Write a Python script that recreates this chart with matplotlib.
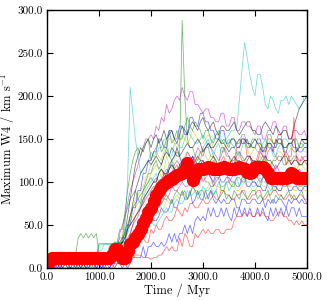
import matplotlib
matplotlib.use("Agg")
import matplotlib.pyplot as plt

plt.rcParams['font.family'] = ['cmr10', 'DejaVu Serif']
plt.rcParams['mathtext.fontset'] = 'cm'
plt.rcParams['axes.formatter.use_mathtext'] = True

# Time grid (Myr), every 50 Myr
time_myr = list(range(0, 5001, 50))

# Individual runs: maximum W4 (km/s)
b1 = [0, 0, 0, 5, 0, 5, 0, 5, 0, 0,
      5, 0, 5, 0, 5, 5, 0, 5, 0, 5,
      5, 0, 5, 0, 0, 5, 0, 5, 5, 0,
      5, 0, 5, 12, 12, 12, 12, 25, 12, 25,
      25, 30, 25, 25, 30, 25, 30, 40, 30, 40,
      30, 40, 40, 50, 40, 50, 40, 55, 60, 55,
      60, 55, 70, 60, 70, 60, 60, 70, 60, 70,
      60, 55, 70, 60, 70, 60, 70, 60, 70, 60,
      60, 70, 60, 70, 60, 55, 70, 60, 70, 60,
      70, 60, 70, 60, 70, 70, 60, 70, 60, 60,
      60]
b2 = [0, 5, 5, 0, 5, 0, 5, 5, 5, 0,
      0, 5, 5, 0, 5, 0, 0, 5, 5, 0,
      5, 0, 5, 5, 0, 5, 12, 12, 12, 12,
      15, 15, 25, 25, 40, 40, 50, 45, 45, 50,
      60, 55, 55, 60, 70, 65, 65, 70, 80, 70,
      70, 80, 90, 80, 80, 90, 75, 80, 90, 80,
      80, 90, 80, 90, 80, 75, 80, 75, 80, 75,
      75, 80, 80, 70, 70, 80, 80, 75, 75, 80,
      80, 75, 75, 80, 70, 80, 75, 80, 75, 80,
      80, 75, 70, 80, 75, 80, 80, 75, 80, 75,
      75]
b3 = [0, 0, 0, 5, 5, 5, 0, 5, 5, 0,
      5, 5, 0, 5, 5, 0, 5, 5, 5, 0,
      5, 5, 0, 5, 5, 12, 5, 12, 12, 15,
      15, 20, 20, 30, 40, 50, 55, 60, 60, 70,
      75, 80, 85, 95, 100, 105, 110, 115, 125, 130,
      140, 130, 120, 115, 110, 120, 130, 120, 115, 120,
      125, 115, 110, 105, 100, 110, 110, 100, 100, 105,
      105, 100, 100, 95, 95, 105, 105, 95, 95, 100,
      100, 95, 95, 90, 90, 100, 100, 95, 95, 90,
      90, 100, 100, 90, 90, 95, 95, 90, 90, 95,
      95]
b4 = [0, 0, 0, 5, 5, 5, 5, 5, 5, 5,
      5, 5, 5, 5, 5, 5, 5, 5, 5, 5,
      5, 10, 10, 12, 12, 15, 15, 20, 20, 35,
      35, 50, 50, 70, 70, 90, 90, 110, 110, 125,
      125, 135, 135, 150, 150, 140, 140, 160, 160, 150,
      150, 165, 165, 155, 155, 175, 175, 165, 165, 180,
      180, 170, 170, 160, 160, 150, 150, 160, 160, 145,
      145, 150, 150, 140, 140, 150, 150, 145, 145, 140,
      140, 150, 150, 135, 135, 145, 145, 140, 140, 150,
      150, 135, 135, 145, 145, 140, 140, 135, 135, 140,
      140]
g1 = [0, 5, 10, 15, 15, 15, 15, 15, 15, 15,
      15, 15, 35, 40, 35, 40, 35, 40, 35, 40,
      15, 15, 15, 15, 25, 28, 28, 28, 35, 35,
      60, 70, 80, 85, 90, 80, 75, 90, 100, 110,
      110, 120, 125, 115, 120, 130, 140, 130, 125, 130,
      135, 130, 288, 200, 150, 140, 140, 130, 125, 135,
      135, 140, 140, 130, 130, 120, 120, 140, 140, 130,
      130, 120, 120, 135, 135, 125, 125, 130, 130, 120,
      120, 125, 125, 130, 130, 120, 120, 125, 125, 130,
      130, 120, 120, 125, 125, 130, 130, 120, 120, 125,
      125]
g2 = [0, 5, 10, 15, 15, 15, 15, 15, 15, 15,
      15, 15, 15, 15, 15, 15, 15, 15, 15, 15,
      28, 28, 28, 28, 28, 28, 28, 28, 30, 28,
      45, 50, 60, 70, 75, 80, 85, 90, 95, 100,
      105, 100, 100, 110, 115, 110, 110, 120, 125, 115,
      110, 120, 120, 110, 105, 115, 115, 105, 100, 110,
      110, 100, 100, 95, 95, 105, 105, 90, 90, 100,
      100, 95, 95, 105, 105, 100, 100, 110, 110, 100,
      100, 95, 95, 105, 105, 100, 100, 90, 90, 100,
      100, 95, 95, 100, 100, 105, 105, 95, 95, 100,
      100]
g3 = [0, 0, 0, 5, 5, 0, 5, 5, 0, 5,
      5, 0, 5, 5, 0, 5, 5, 0, 5, 5,
      12, 12, 12, 12, 12, 12, 15, 15, 15, 15,
      25, 25, 30, 30, 40, 40, 55, 50, 60, 55,
      70, 75, 80, 70, 75, 80, 85, 80, 75, 85,
      90, 85, 85, 90, 80, 85, 95, 90, 85, 90,
      90, 80, 85, 90, 85, 90, 80, 85, 90, 80,
      85, 80, 90, 85, 80, 90, 85, 80, 85, 90,
      90, 80, 85, 80, 85, 90, 80, 75, 85, 80,
      85, 80, 85, 90, 80, 85, 80, 85, 90, 80,
      80]
g4 = [0, 5, 5, 5, 5, 5, 5, 5, 5, 5,
      5, 5, 5, 5, 5, 5, 5, 5, 10, 10,
      12, 12, 15, 15, 20, 20, 30, 30, 45, 45,
      65, 90, 110, 125, 135, 140, 130, 140, 145, 150,
      125, 135, 140, 150, 135, 140, 150, 160, 145, 150,
      160, 150, 150, 165, 175, 165, 160, 170, 165, 160,
      150, 160, 160, 150, 145, 155, 155, 145, 150, 145,
      140, 150, 150, 145, 145, 155, 155, 140, 140, 150,
      150, 145, 145, 140, 140, 155, 155, 145, 145, 150,
      150, 140, 140, 145, 145, 150, 150, 140, 140, 145,
      145]
r1 = [0, 0, 0, 0, 0, 0, 0, 0, 0, 0,
      0, 0, 0, 0, 0, 0, 0, 0, 0, 0,
      0, 0, 0, 0, 0, 0, 5, 5, 5, 5,
      10, 10, 12, 12, 15, 15, 15, 12, 12, 12,
      10, 12, 12, 15, 15, 20, 25, 20, 25, 20,
      20, 35, 25, 40, 35, 25, 25, 40, 35, 40,
      45, 40, 45, 40, 40, 45, 45, 40, 40, 45,
      45, 45, 55, 60, 60, 60, 65, 60, 65, 60,
      60, 65, 60, 65, 60, 60, 55, 55, 60, 65,
      65, 60, 60, 55, 55, 50, 55, 50, 55, 50,
      50]
r2 = [0, 5, 5, 10, 10, 10, 10, 10, 10, 10,
      10, 10, 10, 10, 10, 10, 10, 10, 10, 10,
      12, 12, 12, 12, 12, 15, 15, 15, 15, 15,
      20, 20, 25, 25, 35, 30, 40, 35, 30, 30,
      45, 40, 50, 45, 45, 55, 60, 55, 55, 60,
      70, 65, 60, 70, 65, 75, 75, 70, 70, 75,
      80, 75, 75, 80, 85, 80, 80, 90, 90, 85,
      85, 80, 80, 85, 85, 90, 90, 80, 80, 85,
      85, 90, 90, 80, 80, 85, 85, 90, 90, 85,
      85, 80, 80, 85, 85, 80, 80, 85, 85, 80,
      75]
r3 = [0, 0, 0, 5, 5, 5, 5, 5, 5, 5,
      5, 5, 5, 5, 10, 10, 10, 10, 10, 10,
      12, 12, 12, 15, 15, 25, 25, 20, 20, 25,
      30, 35, 40, 50, 60, 65, 70, 75, 80, 85,
      90, 95, 95, 100, 100, 110, 110, 105, 105, 115,
      120, 110, 110, 120, 125, 115, 120, 125, 130, 125,
      120, 110, 110, 120, 125, 120, 115, 125, 130, 120,
      120, 125, 125, 140, 140, 150, 150, 130, 130, 120,
      120, 130, 140, 130, 130, 150, 150, 145, 145, 155,
      155, 140, 120, 130, 130, 175, 125, 120, 130, 125,
      120]
c1 = [0, 0, 0, 5, 5, 5, 5, 5, 5, 5,
      5, 5, 5, 5, 5, 5, 10, 10, 10, 10,
      28, 28, 28, 28, 28, 28, 28, 28, 30, 30,
      50, 100, 210, 180, 150, 130, 110, 115, 120, 125,
      135, 130, 130, 140, 140, 150, 150, 130, 130, 145,
      145, 140, 140, 150, 160, 155, 150, 145, 145, 150,
      155, 150, 140, 145, 150, 155, 160, 150, 145, 150,
      155, 160, 160, 165, 195, 230, 262, 245, 225, 210,
      200, 225, 225, 210, 190, 185, 200, 195, 185, 180,
      195, 195, 200, 190, 200, 195, 190, 185, 190, 200,
      200]
c2 = [0, 5, 5, 5, 5, 5, 5, 5, 5, 5,
      5, 5, 10, 10, 10, 10, 10, 10, 10, 12,
      20, 20, 28, 28, 28, 28, 30, 30, 28, 28,
      35, 40, 50, 55, 60, 65, 75, 80, 90, 95,
      100, 105, 110, 100, 95, 100, 105, 115, 120, 115,
      110, 105, 100, 110, 125, 120, 115, 120, 130, 125,
      140, 145, 150, 140, 130, 140, 145, 135, 135, 145,
      150, 145, 140, 135, 130, 140, 150, 145, 145, 140,
      140, 135, 135, 145, 150, 140, 140, 130, 130, 140,
      145, 150, 150, 145, 140, 135, 135, 145, 145, 140,
      140]
c3 = [0, 0, 0, 0, 0, 0, 0, 5, 5, 5,
      5, 5, 5, 5, 5, 5, 5, 5, 5, 5,
      5, 5, 5, 12, 12, 12, 15, 15, 20, 20,
      25, 25, 30, 30, 40, 45, 50, 50, 45, 45,
      55, 50, 50, 55, 60, 65, 70, 65, 65, 75,
      80, 75, 75, 80, 90, 85, 85, 90, 80, 85,
      95, 90, 90, 95, 85, 90, 100, 95, 95, 100,
      90, 95, 100, 105, 95, 100, 105, 100, 100, 95,
      95, 100, 105, 100, 100, 95, 90, 95, 105, 100,
      95, 100, 100, 95, 105, 100, 95, 100, 100, 95,
      95]
m1 = [0, 0, 0, 5, 5, 5, 5, 5, 5, 5,
      5, 5, 5, 5, 5, 5, 5, 5, 10, 10,
      12, 12, 15, 15, 15, 15, 20, 20, 40, 50,
      60, 75, 90, 100, 110, 120, 130, 140, 150, 150,
      155, 150, 165, 160, 175, 170, 190, 180, 185, 195,
      200, 195, 210, 200, 195, 205, 205, 190, 190, 185,
      180, 185, 185, 175, 175, 170, 170, 180, 180, 165,
      165, 175, 175, 160, 160, 170, 170, 165, 165, 160,
      155, 165, 165, 150, 150, 160, 160, 170, 170, 155,
      155, 165, 165, 150, 150, 160, 160, 155, 155, 160,
      150]
m2 = [0, 5, 5, 5, 5, 5, 5, 5, 5, 5,
      5, 5, 5, 5, 5, 5, 5, 5, 5, 5,
      12, 12, 12, 12, 15, 15, 15, 15, 20, 20,
      25, 30, 40, 50, 55, 60, 70, 75, 85, 90,
      95, 100, 105, 100, 100, 110, 115, 110, 110, 120,
      125, 120, 120, 125, 135, 130, 125, 130, 140, 135,
      130, 140, 145, 140, 135, 130, 125, 130, 140, 135,
      130, 125, 120, 130, 135, 130, 125, 130, 130, 125,
      120, 125, 135, 130, 125, 135, 140, 135, 130, 125,
      125, 130, 135, 130, 120, 125, 130, 125, 125, 130,
      130]
m3 = [0, 0, 0, 0, 0, 5, 5, 5, 5, 5,
      5, 5, 5, 5, 5, 5, 5, 5, 5, 5,
      5, 5, 12, 12, 12, 12, 15, 15, 15, 20,
      20, 25, 30, 35, 40, 45, 45, 50, 55, 60,
      65, 70, 70, 75, 85, 80, 80, 85, 95, 90,
      90, 95, 100, 95, 95, 100, 110, 105, 105, 110,
      100, 105, 110, 105, 95, 100, 105, 110, 115, 110,
      100, 105, 110, 115, 120, 115, 105, 110, 115, 110,
      110, 105, 100, 105, 115, 110, 105, 110, 120, 115,
      105, 110, 110, 105, 100, 105, 110, 115, 110, 105,
      105]
y1 = [0, 5, 5, 10, 10, 10, 10, 10, 10, 10,
      10, 10, 10, 10, 10, 10, 10, 10, 12, 12,
      15, 15, 15, 15, 15, 15, 20, 20, 25, 25,
      40, 45, 55, 60, 70, 75, 80, 85, 95, 100,
      110, 115, 120, 115, 105, 115, 130, 120, 115, 125,
      140, 130, 125, 130, 135, 130, 120, 125, 130, 135,
      140, 130, 125, 130, 130, 125, 120, 115, 115, 120,
      125, 120, 120, 125, 130, 125, 125, 120, 115, 120,
      120, 125, 130, 125, 125, 120, 120, 125, 130, 135,
      135, 130, 120, 125, 125, 120, 115, 120, 120, 115,
      115]
y2 = [0, 0, 0, 5, 5, 5, 5, 5, 5, 5,
      5, 5, 5, 5, 5, 5, 5, 5, 5, 5,
      10, 10, 12, 12, 12, 12, 15, 15, 15, 15,
      20, 25, 30, 30, 35, 40, 50, 55, 60, 60,
      55, 60, 70, 65, 65, 70, 80, 75, 75, 80,
      85, 80, 90, 85, 80, 85, 95, 90, 90, 85,
      85, 90, 95, 100, 100, 95, 95, 90, 90, 100,
      100, 95, 95, 90, 90, 95, 100, 95, 95, 90,
      90, 95, 100, 95, 95, 90, 85, 90, 95, 90,
      90, 95, 100, 95, 95, 90, 90, 95, 95, 90,
      90]
y3 = [0, 0, 0, 5, 5, 5, 5, 5, 5, 5,
      5, 5, 5, 5, 5, 5, 10, 10, 10, 10,
      12, 12, 15, 15, 15, 20, 25, 25, 30, 35,
      45, 50, 60, 70, 80, 85, 90, 95, 105, 110,
      120, 125, 135, 130, 125, 135, 145, 150, 150, 145,
      140, 145, 155, 150, 145, 150, 160, 155, 150, 145,
      145, 150, 155, 150, 140, 145, 150, 145, 135, 140,
      145, 150, 150, 145, 140, 145, 145, 140, 130, 135,
      140, 145, 145, 140, 135, 140, 150, 145, 140, 145,
      145, 140, 130, 135, 140, 135, 135, 140, 140, 135,
      135]
k1 = [0, 5, 10, 15, 15, 15, 15, 15, 15, 15,
      15, 15, 15, 15, 15, 15, 15, 15, 15, 15,
      15, 15, 15, 15, 20, 25, 25, 28, 30, 35,
      40, 60, 80, 100, 120, 130, 140, 135, 145, 150,
      140, 150, 155, 145, 150, 160, 150, 155, 160, 150,
      145, 155, 165, 160, 155, 165, 170, 165, 160, 170,
      175, 165, 160, 165, 170, 160, 155, 165, 165, 160,
      160, 165, 170, 160, 155, 160, 165, 170, 170, 160,
      160, 155, 155, 165, 170, 165, 160, 155, 165, 160,
      155, 160, 160, 150, 150, 165, 175, 185, 190, 195,
      200]
k2 = [0, 5, 10, 15, 15, 15, 15, 15, 15, 15,
      15, 15, 15, 15, 15, 15, 15, 15, 15, 15,
      15, 15, 15, 18, 18, 20, 20, 28, 28, 30,
      35, 45, 50, 55, 60, 65, 70, 80, 85, 90,
      95, 100, 100, 110, 115, 110, 105, 115, 120, 115,
      110, 120, 125, 120, 115, 125, 130, 125, 120, 125,
      125, 120, 120, 125, 130, 125, 115, 120, 125, 120,
      120, 125, 130, 125, 125, 120, 115, 125, 130, 125,
      125, 120, 120, 125, 130, 125, 125, 120, 115, 120,
      125, 130, 130, 125, 120, 125, 125, 120, 120, 125,
      125]
k3 = [0, 5, 10, 15, 15, 15, 15, 15, 15, 15,
      15, 15, 15, 15, 15, 15, 15, 15, 15, 15,
      15, 15, 15, 15, 15, 20, 20, 25, 25, 30,
      30, 45, 60, 75, 90, 100, 110, 115, 120, 125,
      120, 125, 130, 125, 120, 130, 135, 130, 140, 135,
      130, 130, 135, 140, 145, 140, 140, 145, 150, 145,
      135, 140, 145, 140, 140, 145, 150, 145, 145, 140,
      135, 140, 140, 145, 150, 145, 145, 150, 140, 145,
      150, 145, 140, 135, 140, 145, 145, 135, 150, 145,
      145, 140, 140, 145, 145, 150, 135, 140, 150, 145,
      145]

# Median of all runs
median_w4 = [0, 8, 12, 12, 12, 12, 12, 12, 12, 12,
             12, 12, 12, 12, 12, 12, 12, 12, 12, 12,
             12, 12, 12, 12, 12, 15, 22, 22, 15, 12,
             12, 20, 28, 30, 35, 40, 45, 52, 58, 65,
             70, 78, 85, 90, 94, 98, 100, 102, 104, 106,
             108, 109, 110, 115, 122, 110, 102, 108, 115, 115,
             115, 116, 117, 116, 115, 115, 115, 116, 117, 116,
             115, 115, 115, 116, 117, 116, 115, 112, 110, 112,
             118, 118, 118, 118, 115, 110, 105, 105, 105, 105,
             105, 105, 105, 106, 110, 108, 105, 105, 105, 105,
             105]

runs = [(b1, 'b'), (g1, 'g'), (r1, 'r'), (c1, 'c'), (m1, 'm'), (y1, 'y'), (k1, 'k'),
        (b2, 'b'), (g2, 'g'), (r2, 'r'), (c2, 'c'), (m2, 'm'), (y2, 'y'), (k2, 'k'),
        (b3, 'b'), (g3, 'g'), (r3, 'r'), (c3, 'c'), (m3, 'm'), (y3, 'y'), (k3, 'k'),
        (b4, 'b'), (g4, 'g')]

fig = plt.figure(figsize=(3.27, 3.00), dpi=100)
ax = fig.add_axes([0.1437, 0.1067, 0.795, 0.86])

for vals, col in runs:
    ax.plot(time_myr, vals, color=col, lw=0.55, alpha=0.55)

ax.plot(time_myr, median_w4, color='red', lw=6, marker='o', markersize=8.5,
        markeredgecolor='red', markerfacecolor='red')

ax.set_xlim(0, 5000)
ax.set_ylim(0, 300)
xt = [0, 1000, 2000, 3000, 4000, 5000]
yt = [0, 50, 100, 150, 200, 250, 300]
ax.set_xticks(xt)
ax.set_yticks(yt)
ax.set_xticklabels(['%.1f' % v for v in xt])
ax.set_yticklabels(['%.1f' % v for v in yt])
ax.tick_params(direction='in', top=True, right=True, length=4, width=0.8,
               labelsize=8, pad=3)
for s in ax.spines.values():
    s.set_linewidth(1.0)
ax.set_xlabel('Time / Myr', fontsize=9, labelpad=1)
ax.set_ylabel(r'Maximum W4 / km s$^{-1}$', fontsize=9, labelpad=0.5)

fig.savefig('out.png', dpi=100)
